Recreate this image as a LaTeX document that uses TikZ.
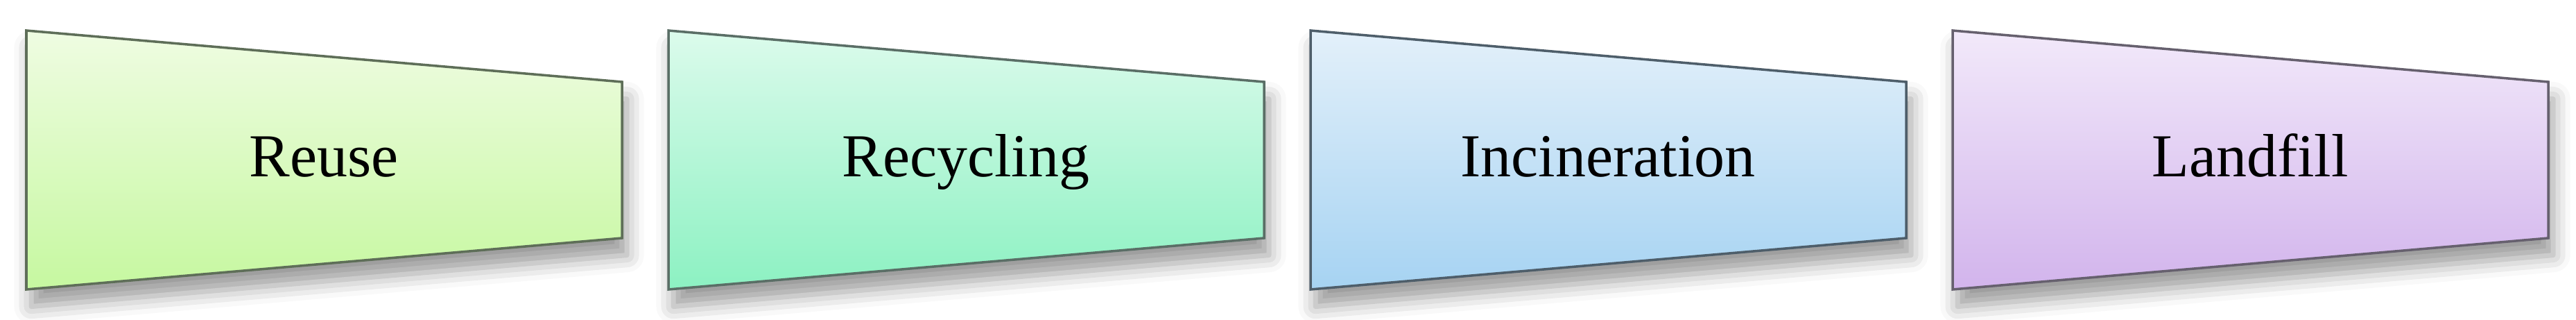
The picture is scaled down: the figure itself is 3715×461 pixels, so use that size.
\documentclass[tikz,border=0pt]{standalone}
\usepackage{fontspec}
\setmainfont{Liberation Serif}
\usetikzlibrary{shadows.blur}
\definecolor{topA}{HTML}{EFFCE2}\definecolor{botA}{HTML}{C6F8A0}\definecolor{lnA}{HTML}{5E6E58}
\definecolor{topB}{HTML}{DCFBEC}\definecolor{botB}{HTML}{8CF1C2}\definecolor{lnB}{HTML}{5A6E66}
\definecolor{topC}{HTML}{E3F0FA}\definecolor{botC}{HTML}{A6D3F2}\definecolor{lnC}{HTML}{4E5E6A}
\definecolor{topD}{HTML}{F2E9FA}\definecolor{botD}{HTML}{D2B4EC}\definecolor{lnD}{HTML}{66606E}
\tikzset{
  trap/.style n args={3}{top color=#1, bottom color=#2, draw=#3, line width=1pt, line join=miter,
    blur shadow={shadow xshift=2pt, shadow yshift=-7pt, shadow blur radius=7pt, shadow opacity=40}},
  label/.style={anchor=base, inner sep=0pt, font=\fontsize{25}{29}\selectfont, text=black}
}
\begin{document}
\begin{tikzpicture}[x=0.01cm,y=0.01cm]
\useasboundingbox (0,0) rectangle (3715,461);
\foreach \i/\t/\b/\l/\txt/\nm in {0/topA/botA/lnA/Reuse/reuse,1/topB/botB/lnB/Recycling/recycling,2/topC/botC/lnC/Incineration/incineration,3/topD/botD/lnD/Landfill/landfill}{
  \pgfmathsetmacro{\xl}{38+926*\i}
  \pgfmathsetmacro{\xr}{897+926*\i}
  \pgfmathsetmacro{\xc}{467+926*\i}
  \path[trap={\t}{\b}{\l}] (\xl,417) coordinate (\nm-nw) -- (\xr,343) coordinate (\nm-ne) -- (\xr,118) coordinate (\nm-se) -- (\xl,44) coordinate (\nm-sw) -- cycle;
  \node[label] (\nm) at (\xc,206) {\txt};
}
\end{tikzpicture}
\end{document}
